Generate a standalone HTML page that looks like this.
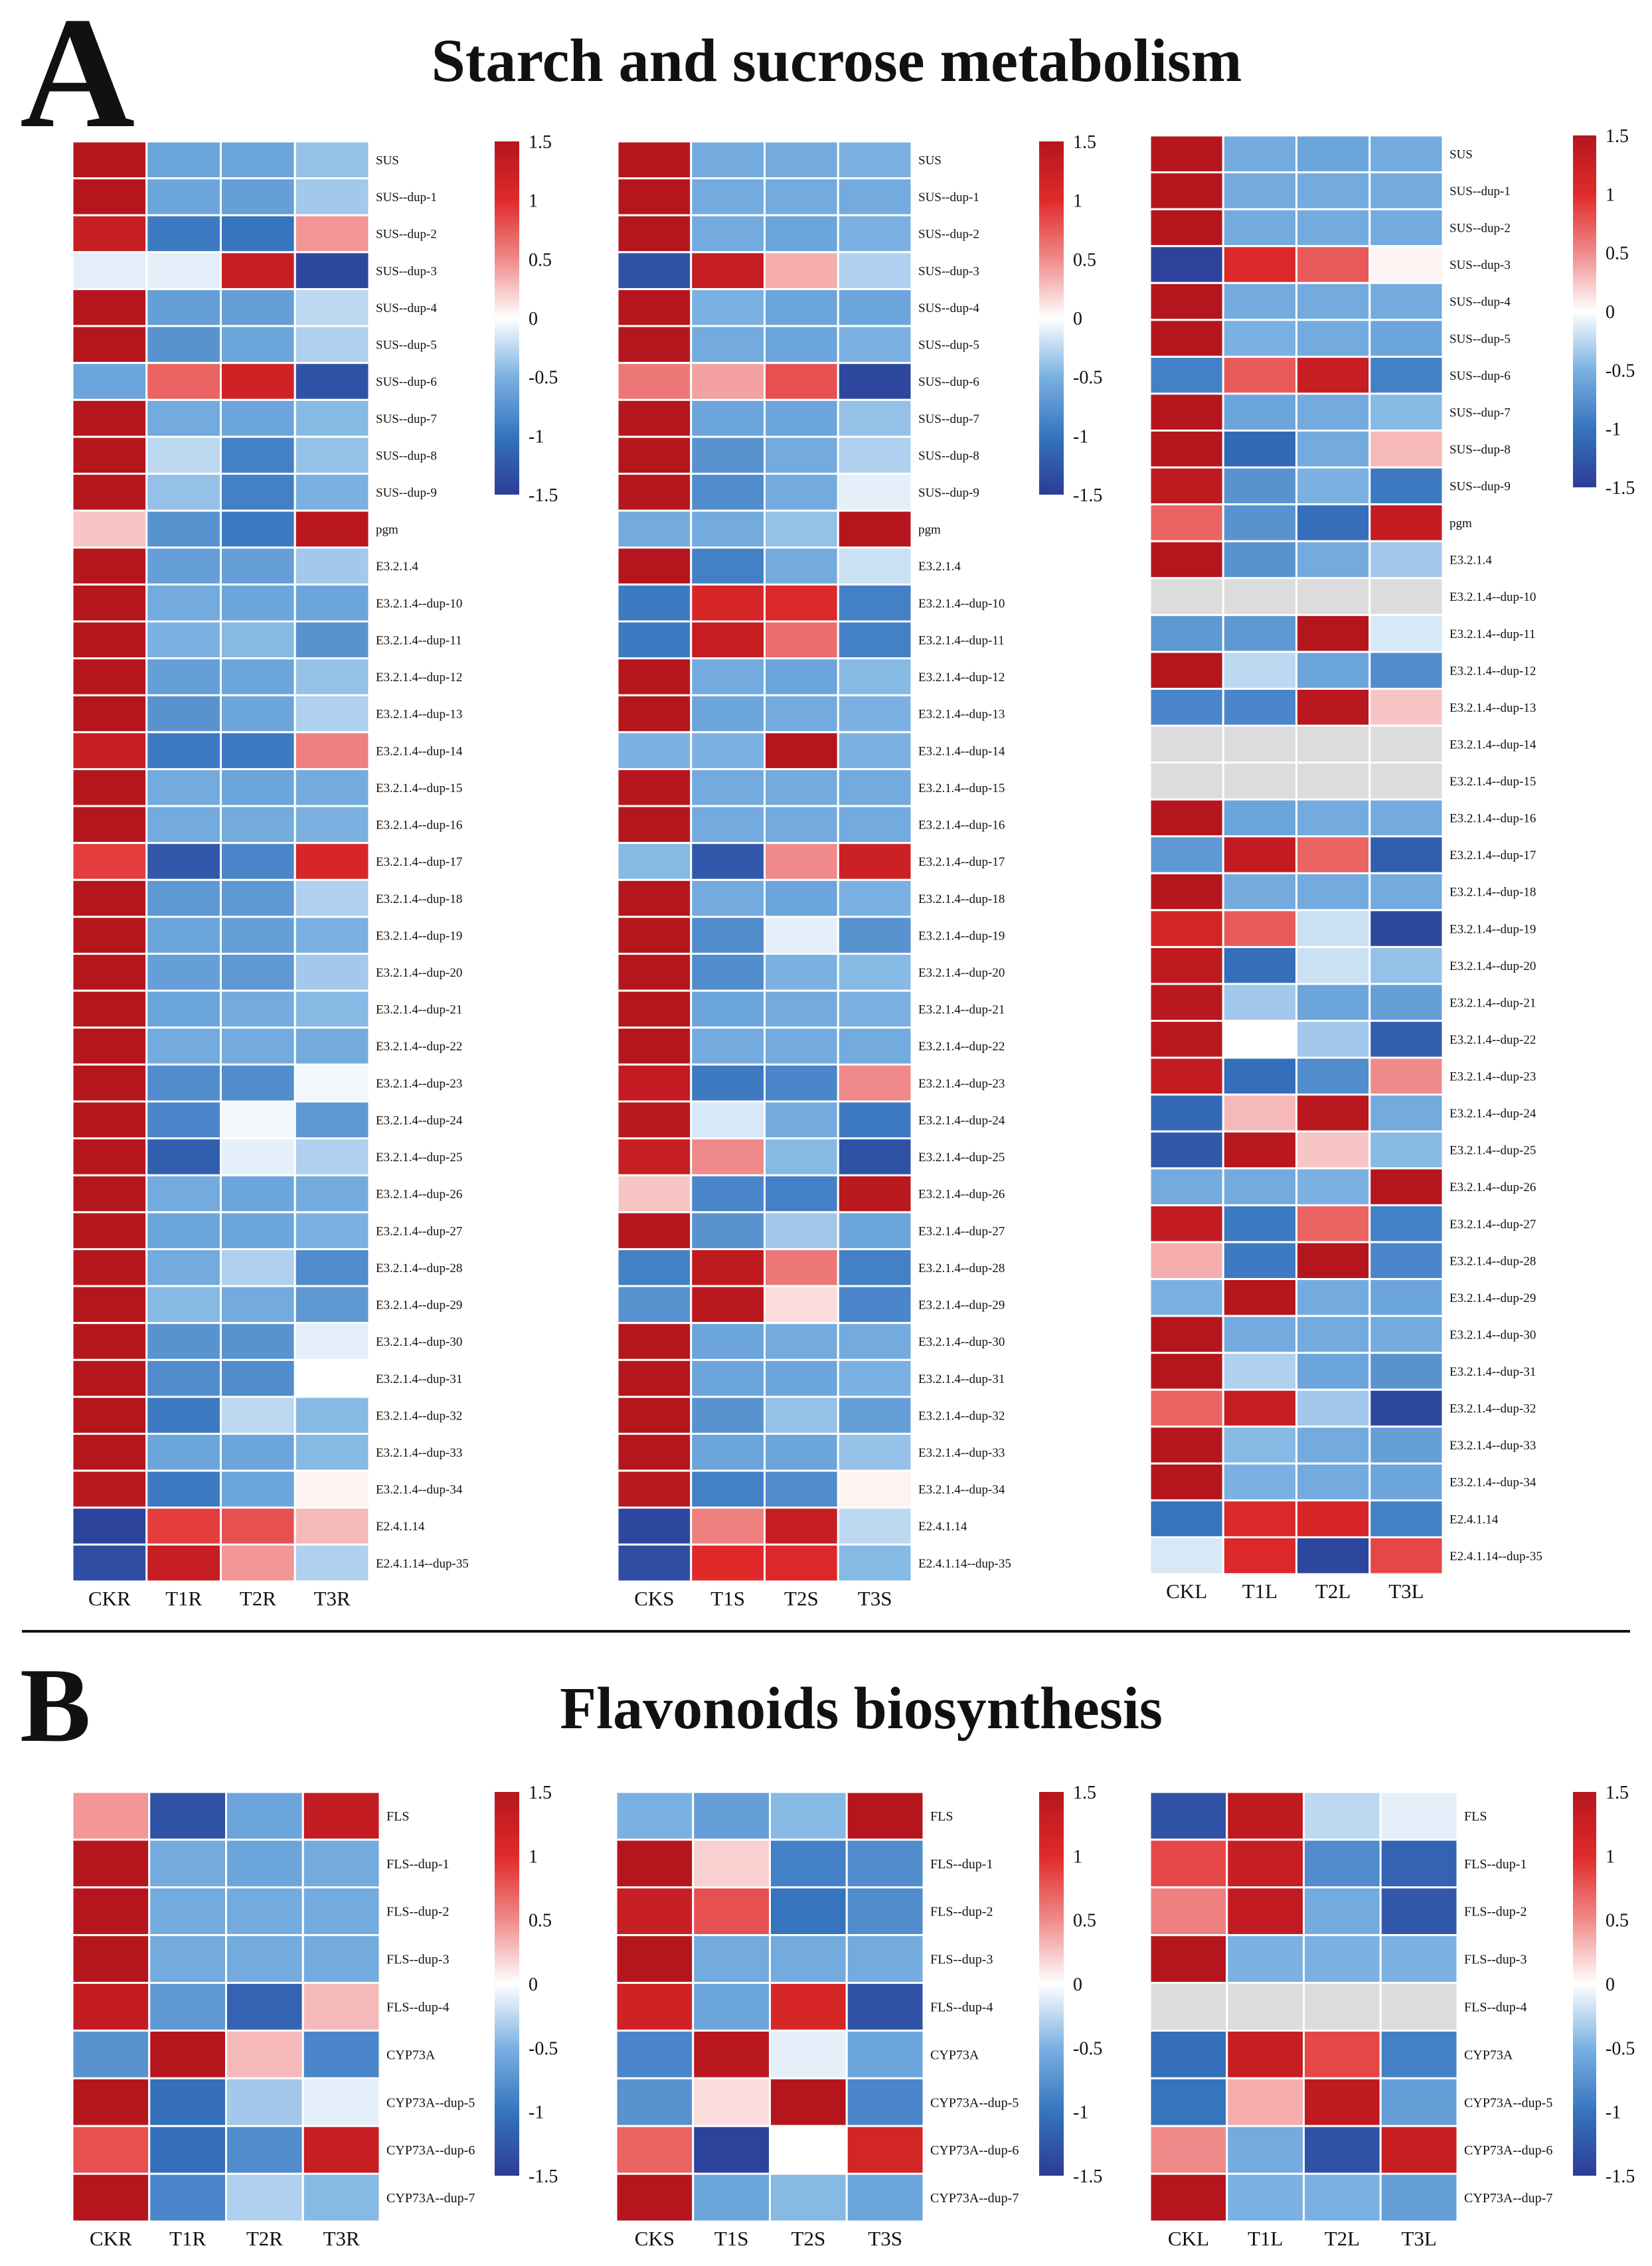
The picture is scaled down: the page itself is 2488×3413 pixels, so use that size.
<!DOCTYPE html>
<html><head><meta charset="utf-8">
<style>
html,body{margin:0;padding:0;background:#fff;}
svg{display:block;}
text{font-family:"Liberation Serif",serif;fill:#111;}
</style></head>
<body>
<svg id="fig" width="2488" height="3413" viewBox="0 0 2488 3413" xmlns="http://www.w3.org/2000/svg">
<defs>
<linearGradient id="cbgrad" x1="0" y1="0" x2="0" y2="1">
<stop offset="0" stop-color="#b5161e"/><stop offset="0.1667" stop-color="#e02a2a"/><stop offset="0.3333" stop-color="#f08a8a"/><stop offset="0.5" stop-color="#ffffff"/><stop offset="0.6667" stop-color="#7ab1e2"/><stop offset="0.8333" stop-color="#3674be"/><stop offset="1" stop-color="#2c3c96"/>
</linearGradient>
</defs>
<text x="30" y="190" font-size="240" font-weight="bold" font-family="Liberation Serif, serif">A</text>
<text x="1260" y="122" font-size="92" font-weight="bold" text-anchor="middle" font-family="Liberation Serif, serif">Starch and sucrose metabolism</text>
<rect x="33" y="2455" width="2422" height="4" fill="#111"/>
<text x="30" y="2622" font-size="160" font-weight="bold" font-family="Liberation Serif, serif">B</text>
<text x="1297" y="2603" font-size="90" font-weight="bold" text-anchor="middle" font-family="Liberation Serif, serif">Flavonoids biosynthesis</text>
<g id="charts"></g>
</svg>
<script>
const rowsA = ["SUS","SUS--dup-1","SUS--dup-2","SUS--dup-3","SUS--dup-4","SUS--dup-5","SUS--dup-6","SUS--dup-7","SUS--dup-8","SUS--dup-9","pgm","E3.2.1.4","E3.2.1.4--dup-10","E3.2.1.4--dup-11","E3.2.1.4--dup-12","E3.2.1.4--dup-13","E3.2.1.4--dup-14","E3.2.1.4--dup-15","E3.2.1.4--dup-16","E3.2.1.4--dup-17","E3.2.1.4--dup-18","E3.2.1.4--dup-19","E3.2.1.4--dup-20","E3.2.1.4--dup-21","E3.2.1.4--dup-22","E3.2.1.4--dup-23","E3.2.1.4--dup-24","E3.2.1.4--dup-25","E3.2.1.4--dup-26","E3.2.1.4--dup-27","E3.2.1.4--dup-28","E3.2.1.4--dup-29","E3.2.1.4--dup-30","E3.2.1.4--dup-31","E3.2.1.4--dup-32","E3.2.1.4--dup-33","E3.2.1.4--dup-34","E2.4.1.14","E2.4.1.14--dup-35"];
const rowsB = ["FLS","FLS--dup-1","FLS--dup-2","FLS--dup-3","FLS--dup-4","CYP73A","CYP73A--dup-5","CYP73A--dup-6","CYP73A--dup-7"];
const colsR = ["CKR","T1R","T2R","T3R"];
const colsS = ["CKS","T1S","T2S","T3S"];
const colsL = ["CKL","T1L","T2L","T3L"];
const ticks = [1.5,1,0.5,0,-0.5,-1,-1.5];
const tickLabels = ["1.5","1","0.5","0","-0.5","-1","-1.5"];
const N = null;
const valsAR = [
[1.5,-0.6,-0.6,-0.4],[1.5,-0.6,-0.65,-0.35],[1.3,-0.95,-1.0,0.45],[-0.1,-0.1,1.3,-1.4],[1.5,-0.65,-0.65,-0.25],
[1.5,-0.75,-0.6,-0.3],[-0.6,0.7,1.2,-1.3],[1.5,-0.55,-0.6,-0.45],[1.5,-0.25,-0.9,-0.4],[1.5,-0.4,-0.9,-0.5],
[0.25,-0.75,-0.95,1.45],[1.5,-0.65,-0.65,-0.35],[1.5,-0.55,-0.6,-0.6],[1.5,-0.5,-0.45,-0.75],[1.5,-0.65,-0.6,-0.4],
[1.5,-0.75,-0.6,-0.3],[1.3,-0.95,-0.95,0.55],[1.5,-0.55,-0.6,-0.55],[1.5,-0.55,-0.55,-0.5],[0.9,-1.25,-0.85,1.1],
[1.5,-0.7,-0.7,-0.3],[1.5,-0.6,-0.65,-0.5],[1.5,-0.65,-0.7,-0.35],[1.5,-0.6,-0.55,-0.45],[1.5,-0.55,-0.55,-0.55],
[1.5,-0.8,-0.8,-0.05],[1.5,-0.85,-0.05,-0.7],[1.5,-1.2,-0.1,-0.3],[1.5,-0.55,-0.6,-0.55],[1.5,-0.6,-0.6,-0.5],
[1.5,-0.55,-0.3,-0.8],[1.5,-0.45,-0.55,-0.7],[1.5,-0.75,-0.75,-0.1],[1.5,-0.8,-0.8,0.0],[1.5,-0.95,-0.25,-0.45],
[1.5,-0.6,-0.6,-0.45],[1.45,-0.95,-0.6,0.05],[-1.45,0.9,0.8,0.3],[-1.35,1.3,0.45,-0.3]];
const valsAS = [
[1.5,-0.55,-0.55,-0.5],[1.5,-0.55,-0.55,-0.55],[1.5,-0.55,-0.6,-0.5],[-1.3,1.3,0.35,-0.3],[1.5,-0.5,-0.6,-0.6],
[1.5,-0.55,-0.6,-0.5],[0.6,0.4,0.8,-1.4],[1.5,-0.6,-0.6,-0.4],[1.5,-0.75,-0.55,-0.3],[1.5,-0.8,-0.55,-0.1],
[-0.55,-0.55,-0.4,1.5],[1.5,-0.9,-0.55,-0.2],[-0.95,1.1,1.05,-0.9],[-0.95,1.3,0.65,-0.9],[1.5,-0.55,-0.6,-0.45],
[1.5,-0.6,-0.55,-0.5],[-0.5,-0.5,1.5,-0.5],[1.5,-0.55,-0.55,-0.55],[1.5,-0.55,-0.55,-0.55],[-0.45,-1.25,0.5,1.25],
[1.5,-0.55,-0.6,-0.5],[1.5,-0.8,-0.1,-0.75],[1.5,-0.8,-0.5,-0.45],[1.5,-0.6,-0.55,-0.5],[1.5,-0.55,-0.55,-0.55],
[1.35,-0.95,-0.85,0.5],[1.45,-0.15,-0.55,-0.95],[1.3,0.5,-0.45,-1.3],[0.25,-0.85,-0.9,1.45],[1.5,-0.75,-0.35,-0.6],
[-0.9,1.4,0.6,-0.9],[-0.75,1.45,0.15,-0.85],[1.5,-0.6,-0.55,-0.55],[1.5,-0.6,-0.6,-0.5],[1.5,-0.75,-0.4,-0.65],
[1.5,-0.6,-0.6,-0.4],[1.45,-0.9,-0.8,0.05],[-1.4,0.55,1.3,-0.25],[-1.35,1.0,1.05,-0.45]];
const valsAL = [
[1.5,-0.55,-0.6,-0.55],[1.5,-0.55,-0.55,-0.55],[1.5,-0.55,-0.55,-0.55],[-1.45,1.05,0.75,0.05],[1.5,-0.55,-0.55,-0.55],
[1.5,-0.5,-0.55,-0.6],[-0.9,0.75,1.3,-0.9],[1.5,-0.6,-0.55,-0.45],[1.5,-1.1,-0.55,0.3],[1.4,-0.75,-0.5,-0.95],
[0.7,-0.75,-1.05,1.35],[1.5,-0.75,-0.55,-0.35],[N,N,N,N],[-0.7,-0.7,1.5,-0.15],[1.5,-0.25,-0.6,-0.8],
[-0.85,-0.85,1.45,0.25],[N,N,N,N],[N,N,N,N],[1.5,-0.6,-0.55,-0.55],[-0.7,1.35,0.7,-1.2],
[1.5,-0.55,-0.55,-0.55],[1.15,0.75,-0.2,-1.4],[1.4,-1.05,-0.2,-0.4],[1.45,-0.35,-0.6,-0.65],[1.45,0.0,-0.35,-1.2],
[1.35,-1.05,-0.8,0.5],[-1.1,0.3,1.45,-0.55],[-1.25,1.45,0.25,-0.45],[-0.55,-0.55,-0.5,1.5],[1.35,-0.95,0.7,-0.9],
[0.35,-0.95,1.5,-0.85],[-0.5,1.5,-0.55,-0.6],[1.5,-0.55,-0.55,-0.55],[1.5,-0.3,-0.6,-0.75],[0.7,1.3,-0.35,-1.4],
[1.5,-0.45,-0.55,-0.65],[1.5,-0.5,-0.55,-0.6],[-1.0,1.05,1.1,-0.9],[-0.15,1.05,-1.4,0.85]];
const valsBR = [[0.45,-1.3,-0.6,1.35],[1.5,-0.55,-0.6,-0.55],[1.5,-0.55,-0.55,-0.55],[1.5,-0.55,-0.55,-0.55],[1.35,-0.7,-1.15,0.3],[-0.75,1.5,0.3,-0.85],[1.5,-1.05,-0.35,-0.1],[0.8,-1.05,-0.8,1.3],[1.5,-0.85,-0.3,-0.45]];
const valsBS = [[-0.5,-0.65,-0.45,1.5],[1.5,0.2,-0.9,-0.8],[1.3,0.8,-1.0,-0.8],[1.5,-0.55,-0.55,-0.55],[1.2,-0.6,1.1,-1.3],[-0.85,1.45,-0.1,-0.6],[-0.75,0.15,1.5,-0.85],[0.7,-1.45,0.0,1.15],[1.5,-0.6,-0.45,-0.6]];
const valsBL = [[-1.3,1.4,-0.25,-0.1],[0.85,1.3,-0.8,-1.15],[0.55,1.35,-0.55,-1.25],[1.5,-0.5,-0.5,-0.5],[N,N,N,N],[-1.05,1.3,0.85,-0.9],[-1.0,0.35,1.4,-0.65],[0.5,-0.55,-1.3,1.3],[1.5,-0.5,-0.5,-0.65]];

const NS = "http://www.w3.org/2000/svg";
const stops = [[-1.5,[44,60,150]],[-1,[54,116,190]],[-0.5,[122,177,226]],[0,[255,255,255]],[0.5,[240,138,138]],[1,[224,42,42]],[1.5,[181,22,30]]];
function colorOf(v){
  if(v===null) return "#dcdcdc";
  v=Math.max(-1.5,Math.min(1.5,v));
  for(let i=0;i<stops.length-1;i++){
    const a=stops[i],b=stops[i+1];
    if(v<=b[0]){const t=(v-a[0])/(b[0]-a[0]);
      const c=a[1].map((x,k)=>Math.round(x+(b[1][k]-x)*t));
      return "rgb("+c.join(",")+")";}
  }
  return "rgb(181,22,30)";
}
function mk(tag,attrs,parent){const e=document.createElementNS(NS,tag);for(const k in attrs)e.setAttribute(k,attrs[k]);parent.appendChild(e);return e;}
const root=document.getElementById("charts");

function heatmap(id,vals,rows,cols,x0,y0,w,h,labelSize,colLabelY,cb){
  const g=mk("g",{},root);
  
  
  const cw=w/cols.length, rh=h/rows.length;
  const xs=j=>x0+j*cw, ys=i=>y0+i*rh;
  vals.forEach((row,i)=>{
    row.forEach((v,j)=>{
      const r=mk("rect",{x:xs(j),y:ys(i),width:cw,height:rh,fill:colorOf(v),stroke:"#fff","stroke-width":3},g);
      
      
    });
  });
  rows.forEach((lab,i)=>{
    const t=mk("text",{x:x0+w+10,y:ys(i)+rh/2+labelSize*0.35,"font-size":labelSize,"font-family":"Liberation Serif, serif"},g);
    t.textContent=lab;
    
    
  });
  cols.forEach((lab,j)=>{
    const t=mk("text",{x:xs(j)+cw/2,y:colLabelY,"font-size":31,"text-anchor":"middle","font-family":"Liberation Serif, serif"},g);
    t.textContent=lab;
    
    
  });
  const [cx,cy,cwid,ch]=cb;
  const bar=mk("rect",{x:cx,y:cy,width:cwid,height:ch,fill:"url(#cbgrad)"},g);
  
  
  const cbY=v=>cy+(1.5-v)/3*ch;
  ticks.forEach((v,k)=>{
    const t=mk("text",{x:cx+cwid+14,y:cbY(v)+10,"font-size":28,"font-family":"Liberation Serif, serif"},g);
    t.textContent=tickLabels[k];
    
    
  });
}
heatmap("heatmap-root-starch",valsAR,rowsA,colsR,109,213,447,2169,19,2418,[745,213,37,532]);
heatmap("heatmap-stem-starch",valsAS,rowsA,colsS,930,213,443,2169,19,2418,[1565,213,37,532]);
heatmap("heatmap-leaf-starch",valsAL,rowsA,colsL,1732,204,441,2167,19,2407,[2369,204,35,530]);
heatmap("heatmap-root-flavonoid",valsBR,rowsB,colsR,109,2699,463,647,20,3382,[745,2699,37,578]);
heatmap("heatmap-stem-flavonoid",valsBS,rowsB,colsS,928,2699,463,647,20,3382,[1565,2699,37,578]);
heatmap("heatmap-leaf-flavonoid",valsBL,rowsB,colsL,1732,2699,463,647,20,3382,[2369,2699,35,578]);
</script>
</body></html>
